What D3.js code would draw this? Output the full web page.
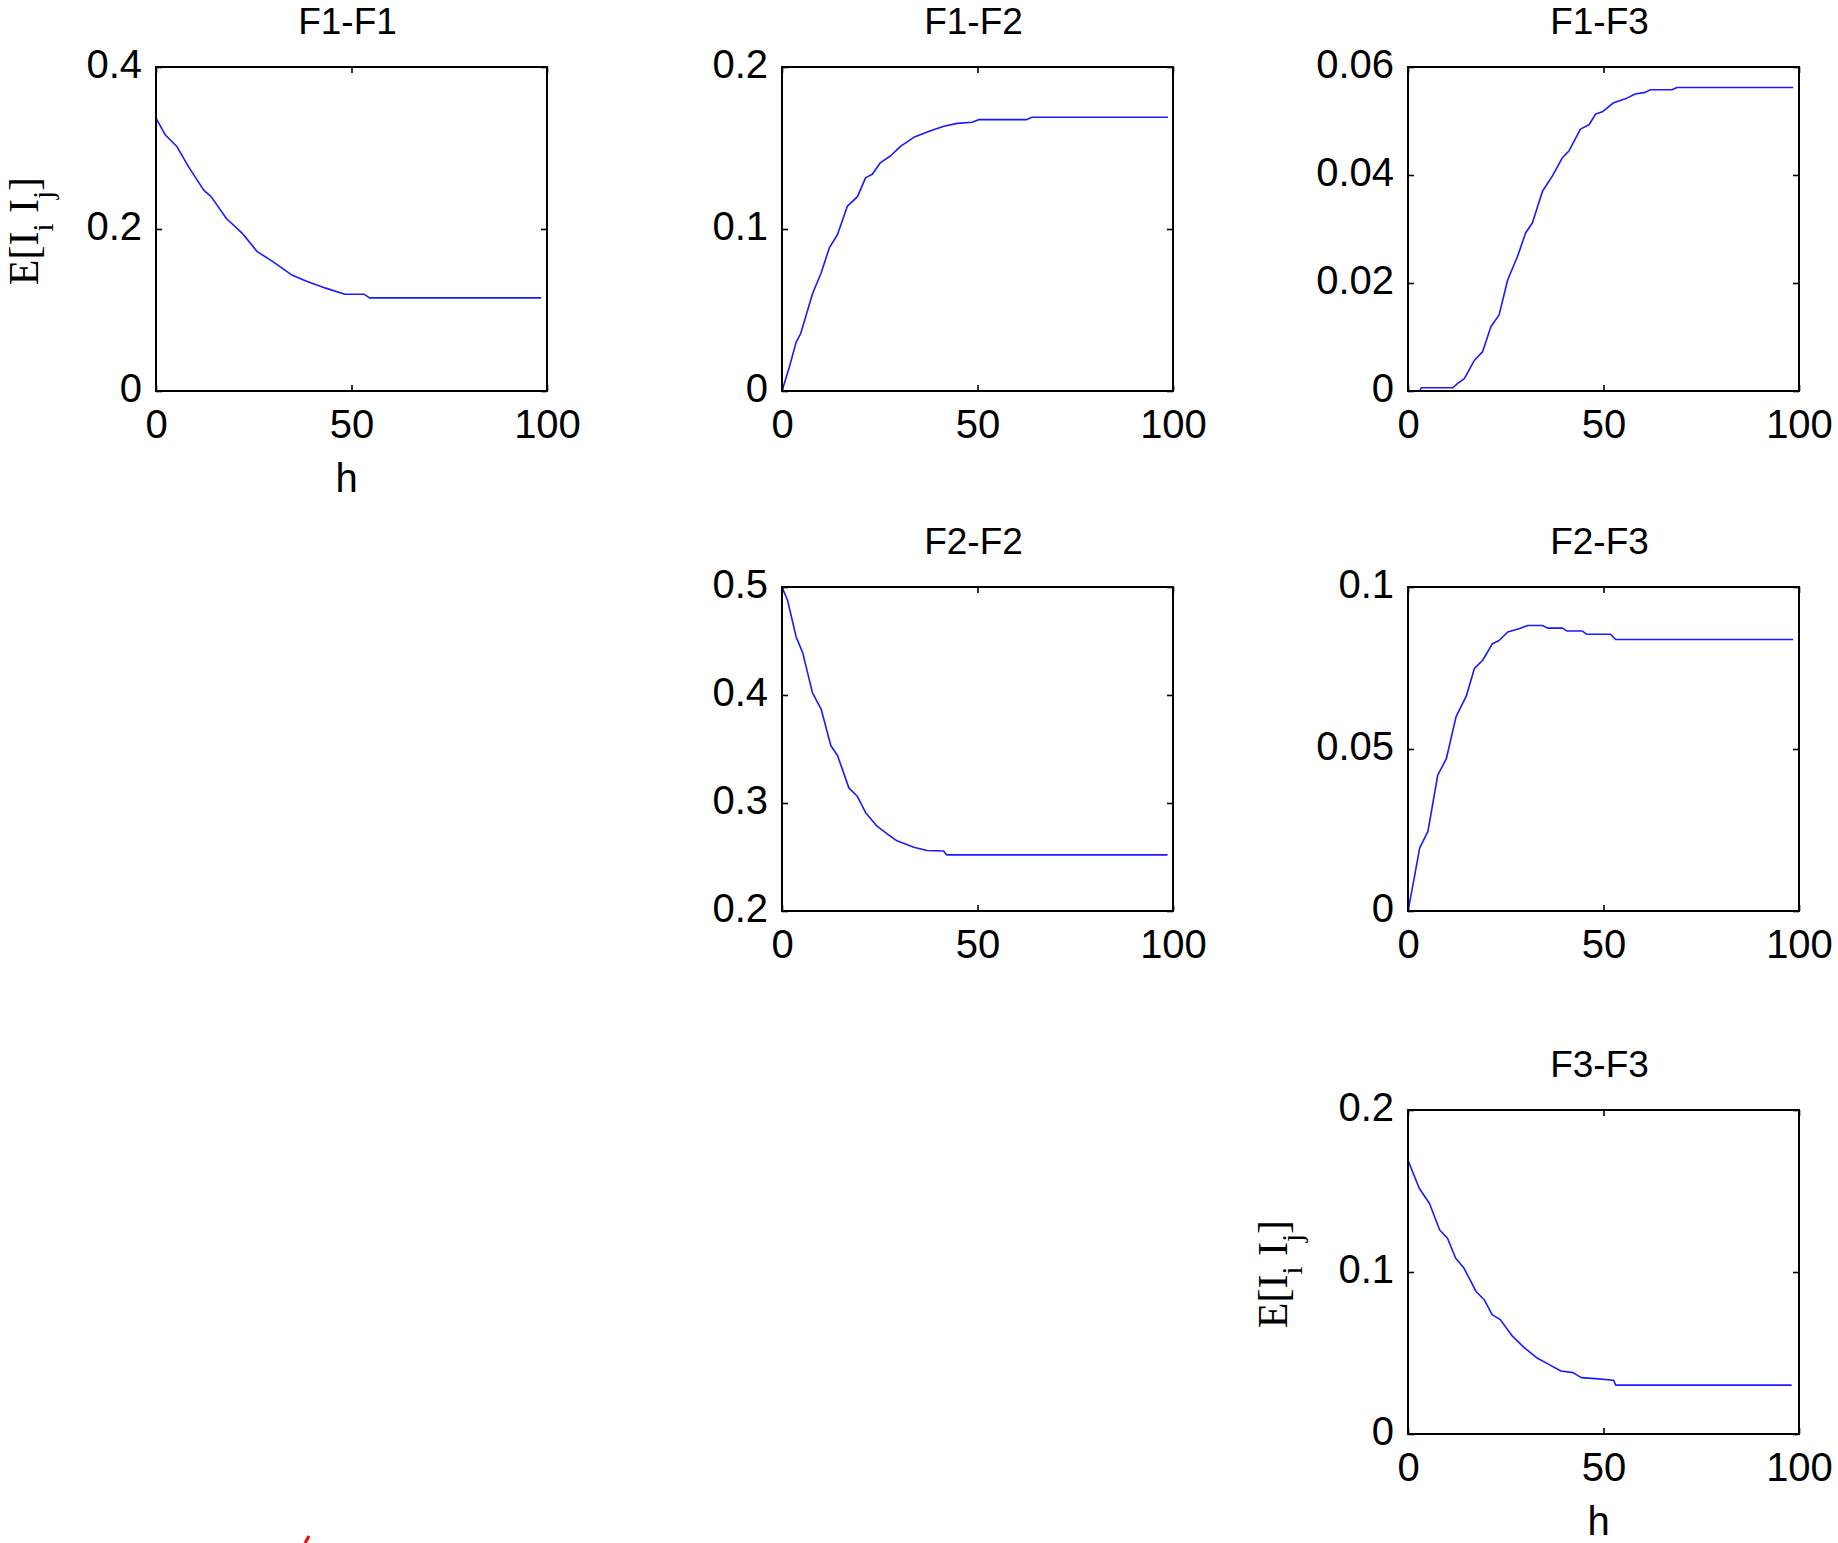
<!DOCTYPE html>
<html>
<head>
<meta charset="utf-8">
<script src="https://cdn.jsdelivr.net/npm/d3@7"></script>
<style>
  html, body { margin: 0; padding: 0; background: #fff; }
  svg { display: block; }
</style>
</head>
<body>
<svg id="chart" width="1838" height="1543"></svg>
<script>
// ---------------- data ----------------
const panelNames = ["F1-F1", "F1-F2", "F1-F3", "F2-F2", "F2-F3", "F3-F3"];
const xTicks = [0, 50, 100];

const yTicksF1F1 = [0, 0.2, 0.4];
const yTicksF1F2 = [0, 0.1, 0.2];
const yTicksF1F3 = [0, 0.02, 0.04, 0.06];
const yTicksF2F2 = [0.2, 0.3, 0.4, 0.5];
const yTicksF2F3 = [0, 0.05, 0.1];
const yTicksF3F3 = [0, 0.1, 0.2];

const hF1F1 = [0, 2.4, 5.4, 8.3, 12.2, 14.1, 18, 22, 25.9, 29.8, 34.6, 38.5, 43.4, 48.3, 53.2, 54.6, 98.5];
const vF1F1 = [0.337, 0.316, 0.3015, 0.277, 0.248, 0.240, 0.213, 0.195, 0.172, 0.160, 0.1436, 0.1354, 0.127, 0.1195, 0.1195, 0.115, 0.115];

const hF1F2 = [0, 1.9, 3.6, 4.8, 7.8, 10, 12.1, 14.2, 16.7, 19.3, 21.4, 23.1, 25.2, 27.8, 30.3, 33.7, 38, 41.4, 44.8, 48.6, 50.3, 62.6, 63.9, 98.7];
const vF1F2 = [0, 0.015, 0.030, 0.0356, 0.060, 0.0728, 0.0883, 0.0966, 0.114, 0.120, 0.1317, 0.1338, 0.141, 0.1452, 0.151, 0.1566, 0.1607, 0.1634, 0.1652, 0.1659, 0.1675, 0.1675, 0.1690, 0.1690];

const hF1F3 = [0, 3, 3.4, 11.5, 12.7, 14.4, 17, 19.1, 21.2, 23.3, 25.5, 28, 30.1, 31.8, 34.4, 36.9, 39.5, 41.2, 44.1, 46.3, 48, 49.7, 52.6, 55.6, 58.1, 60.7, 62, 67.5, 68.8, 98.5];
const vF1F3 = [0, 0, 0.0006, 0.0006, 0.0014, 0.0023, 0.0057, 0.0073, 0.0119, 0.0141, 0.0206, 0.0249, 0.0293, 0.0311, 0.037, 0.0398, 0.0432, 0.0445, 0.0485, 0.0493, 0.0513, 0.0517, 0.0534, 0.0541, 0.055, 0.0553, 0.0558, 0.0558, 0.0562, 0.0562];

const hF2F2 = [0, 1.4, 3.6, 5.3, 7.8, 10, 12.5, 14.2, 17.1, 19.3, 21.4, 24.3, 26.9, 29.4, 33.7, 37.1, 41.3, 42.1, 98.6];
const vF2F2 = [0.5, 0.488, 0.454, 0.439, 0.402, 0.387, 0.353, 0.344, 0.314, 0.306, 0.291, 0.2785, 0.2715, 0.265, 0.259, 0.256, 0.2556, 0.252, 0.252];

const hF2F3 = [0, 1.3, 3, 5.1, 7.6, 9.8, 12.3, 14.9, 17, 19.1, 21.6, 23.3, 25.5, 28.4, 30.6, 34.4, 35.7, 39.5, 40.7, 44.6, 45.8, 51.8, 53.1, 98.5];
const vF2F3 = [0, 0.0083, 0.0195, 0.0246, 0.0419, 0.047, 0.060, 0.0663, 0.0749, 0.0774, 0.0825, 0.0835, 0.0861, 0.0871, 0.0881, 0.0881, 0.0873, 0.0873, 0.0864, 0.0864, 0.0854, 0.0854, 0.0838, 0.0838];

const hF3F3 = [0, 2.9, 5.5, 8.1, 10.1, 12.2, 14.3, 17.4, 19.5, 21.5, 23.6, 26.7, 29.8, 32.9, 36, 39.1, 42.2, 44.3, 47.9, 52.6, 53.1, 98.1];
const vF3F3 = [0.1689, 0.1515, 0.1423, 0.1259, 0.1208, 0.1085, 0.1024, 0.088, 0.0829, 0.0737, 0.0706, 0.0604, 0.0532, 0.0471, 0.043, 0.0389, 0.0379, 0.0348, 0.0342, 0.0332, 0.0302, 0.0302];

const xLabel = "h";

// ---------------- layout ----------------
const colLeft = [156, 782, 1408];
const rowTop = [67, 587, 1110];
const boxW = 391, boxH = 324;

const panels = [
  { name: panelNames[0], row: 0, col: 0, h: hF1F1, v: vF1F1, yTicks: yTicksF1F1, xlab: true,  ylab: true,  ylabX: -118 },
  { name: panelNames[1], row: 0, col: 1, h: hF1F2, v: vF1F2, yTicks: yTicksF1F2, xlab: false, ylab: false },
  { name: panelNames[2], row: 0, col: 2, h: hF1F3, v: vF1F3, yTicks: yTicksF1F3, xlab: false, ylab: false },
  { name: panelNames[3], row: 1, col: 1, h: hF2F2, v: vF2F2, yTicks: yTicksF2F2, xlab: false, ylab: false },
  { name: panelNames[4], row: 1, col: 2, h: hF2F3, v: vF2F3, yTicks: yTicksF2F3, xlab: false, ylab: false },
  { name: panelNames[5], row: 2, col: 2, h: hF3F3, v: vF3F3, yTicks: yTicksF3F3, xlab: true,  ylab: true,  ylabX: -121 }
];

const sans = "'Liberation Sans', Arial, sans-serif";
const serif = "'Liberation Serif', 'Times New Roman', serif";
const tickFont = 40, titleFont = 37, tickLen = 6;

const svg = d3.select("#chart");

panels.forEach(p => {
  const x0 = colLeft[p.col], y0 = rowTop[p.row];
  const g = svg.append("g").attr("transform", `translate(${x0},${y0})`);
  const x = d3.scaleLinear().domain([0, 100]).range([0, boxW]);
  const yDom = d3.extent(p.yTicks);
  const y = d3.scaleLinear().domain(yDom).range([boxH, 0]);

  // curve
  const pts = p.h.map((hv, i) => [hv, p.v[i]]);
  g.append("path")
    .datum(pts)
    .attr("fill", "none")
    .attr("stroke", "#1a1aff")
    .attr("stroke-width", 1.6)
    .attr("stroke-linejoin", "round")
    .attr("d", d3.line().x(d => x(d[0])).y(d => y(d[1])));

  // axes (inward ticks on all four sides)
  const axB = g.append("g").attr("transform", `translate(0,${boxH})`)
    .call(d3.axisBottom(x).tickValues(xTicks).tickSize(-tickLen).tickPadding(14).tickFormat(d3.format("d")));
  const axT = g.append("g")
    .call(d3.axisTop(x).tickValues(xTicks).tickSize(-tickLen).tickFormat(""));
  const axL = g.append("g")
    .call(d3.axisLeft(y).tickValues(p.yTicks).tickSize(-tickLen).tickPadding(14).tickFormat(d => String(+d.toFixed(4))));
  const axR = g.append("g").attr("transform", `translate(${boxW},0)`)
    .call(d3.axisRight(y).tickValues(p.yTicks).tickSize(-tickLen).tickFormat(""));

  [axB, axT, axL, axR].forEach(a => {
    a.select(".domain").remove();
    a.selectAll(".tick line").attr("stroke", "#000").attr("stroke-width", 1.6);
    a.selectAll("text").attr("fill", "#000").style("font-family", sans).style("font-size", tickFont + "px");
  });
  axB.selectAll(".tick text").attr("dy", null).attr("y", 47);
  axL.selectAll(".tick text").attr("dy", null).attr("y", 10);

  // box
  g.append("rect").attr("x", 0).attr("y", 0).attr("width", boxW).attr("height", boxH)
    .attr("fill", "none").attr("stroke", "#000").attr("stroke-width", 2);

  // title
  g.append("text").attr("x", boxW / 2 - 4).attr("y", -33).attr("text-anchor", "middle")
    .style("font-family", sans).style("font-size", titleFont + "px").attr("fill", "#000")
    .text(p.name);

  if (p.xlab) {
    g.append("text").attr("x", boxW / 2 - 5).attr("y", boxH + 101).attr("text-anchor", "middle")
      .style("font-family", sans).style("font-size", tickFont + "px").attr("fill", "#000")
      .text(xLabel);
  }
  if (p.ylab) {
    const t = g.append("text")
      .attr("transform", `translate(${p.ylabX},${boxH / 2 + 2}) rotate(-90)`)
      .attr("text-anchor", "middle")
      .style("font-family", serif).style("font-size", "42px").attr("fill", "#000");
    t.append("tspan").text("E[I");
    t.append("tspan").attr("dy", 15).style("font-size", "29px").text("i");
    t.append("tspan").attr("dy", -15).text(" I");
    t.append("tspan").attr("dy", 15).style("font-size", "29px").text("j");
    t.append("tspan").attr("dy", -15).text("]");
  }
});

// small red stray mark at the bottom edge of the figure
svg.append("path").attr("d", "M305,1543 L309,1536").attr("stroke", "#ff0000").attr("stroke-width", 3).attr("fill", "none");
</script>
</body>
</html>
